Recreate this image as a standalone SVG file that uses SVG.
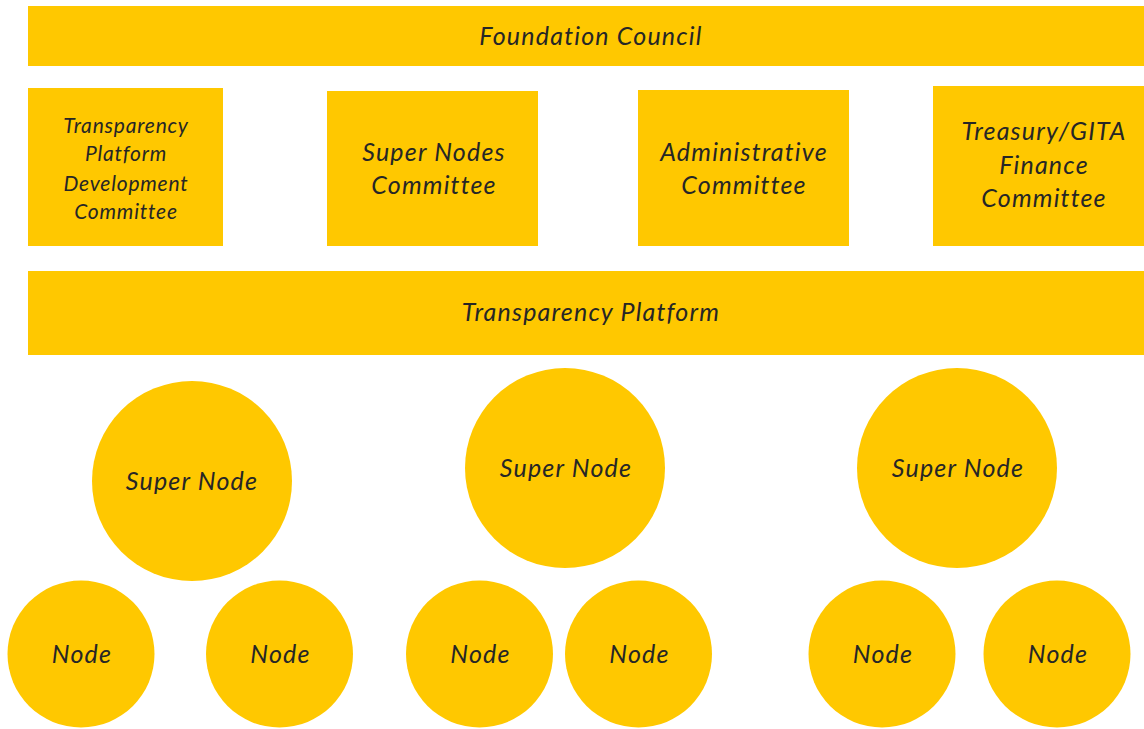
<svg xmlns="http://www.w3.org/2000/svg" width="1144" height="729" viewBox="0 0 1144 729">
<style>
.s{fill:#FFC800}
text{font-family:Lato,"Noto Sans","Liberation Sans",sans-serif;font-style:italic;fill:#262626;text-anchor:middle}
.b{font-size:25px;letter-spacing:1.2px}
.m{font-size:21px;letter-spacing:0.8px}
</style>
<rect width="1144" height="729" fill="#ffffff"/>
<g id="foundation-council"><rect class="s" x="28" y="6" width="1116" height="60"/><text class="b" x="591" y="45">Foundation Council</text></g>
<g id="tp-dev-committee"><rect class="s" x="28" y="88" width="195" height="158"/>
<text class="m" x="126" y="133">Transparency</text><text class="m" x="126" y="161">Platform</text><text class="m" x="126" y="191">Development</text><text class="m" x="126" y="219">Committee</text></g>
<g id="super-nodes-committee"><rect class="s" x="327" y="91" width="211" height="155"/>
<text class="b" x="434" y="161">Super Nodes</text><text class="b" x="434" y="194">Committee</text></g>
<g id="administrative-committee"><rect class="s" x="638" y="90" width="211" height="156"/>
<text class="b" x="744" y="161">Administrative</text><text class="b" x="744" y="194">Committee</text></g>
<g id="treasury-committee"><rect class="s" x="933" y="86" width="211" height="160"/>
<text class="b" x="1044" y="140">Treasury/GITA</text><text class="b" x="1044" y="174">Finance</text><text class="b" x="1044" y="207">Committee</text></g>
<g id="transparency-platform"><rect class="s" x="28" y="271" width="1116" height="84"/><text class="b" x="591" y="321">Transparency Platform</text></g>
<g id="super-node-1"><circle class="s" cx="192" cy="481" r="100"/><text class="b" x="192" y="490">Super Node</text></g>
<g id="super-node-2"><circle class="s" cx="565" cy="468" r="100"/><text class="b" x="566" y="477">Super Node</text></g>
<g id="super-node-3"><circle class="s" cx="957" cy="468" r="100"/><text class="b" x="958" y="477">Super Node</text></g>
<g id="node-1"><circle class="s" cx="81" cy="654" r="73.5"/><text class="b" x="82" y="663">Node</text></g>
<g id="node-2"><circle class="s" cx="279.5" cy="654" r="73.5"/><text class="b" x="280.5" y="663">Node</text></g>
<g id="node-3"><circle class="s" cx="479.5" cy="654" r="73.5"/><text class="b" x="480.5" y="663">Node</text></g>
<g id="node-4"><circle class="s" cx="638.5" cy="654" r="73.5"/><text class="b" x="639.5" y="663">Node</text></g>
<g id="node-5"><circle class="s" cx="882" cy="654" r="73.5"/><text class="b" x="883" y="663">Node</text></g>
<g id="node-6"><circle class="s" cx="1057" cy="654" r="73.5"/><text class="b" x="1058" y="663">Node</text></g>
<g id="connectors"/>
</svg>
